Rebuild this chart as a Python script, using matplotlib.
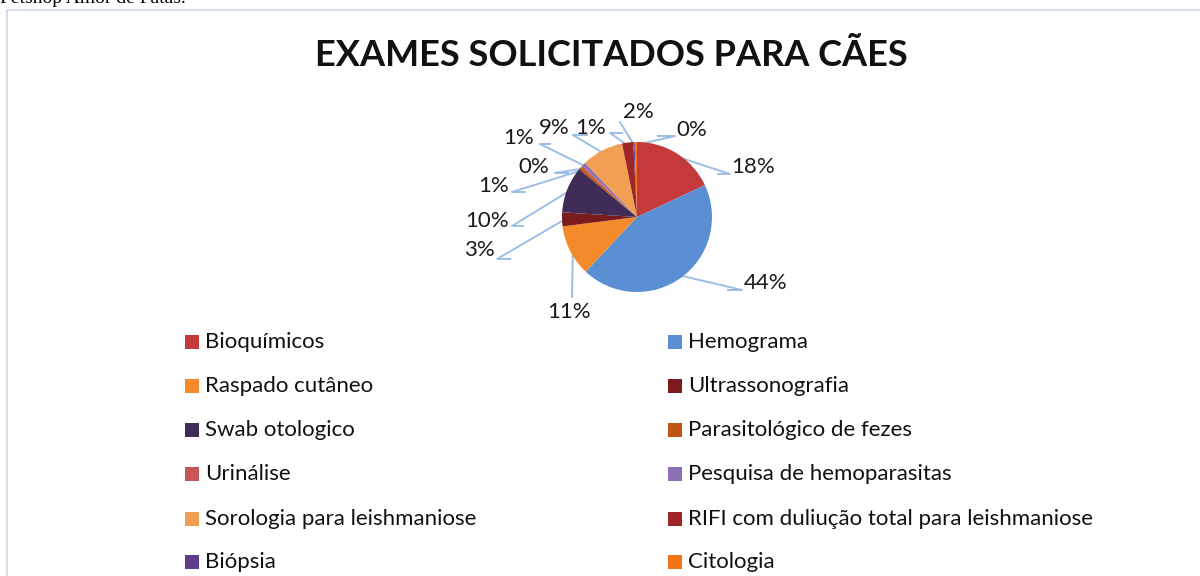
import numpy as np
import matplotlib
matplotlib.use("Agg")
import matplotlib.pyplot as plt
from matplotlib.patches import Rectangle

# ── data ──────────────────────────────────────────────────────────────────────
exames = ["Bioquímicos", "Hemograma", "Raspado cutâneo", "Ultrassonografia",
          "Swab otologico", "Parasitológico de fezes", "Urinálise",
          "Pesquisa de hemoparasitas", "Sorologia para leishmaniose",
          "RIFI com duliução total para leishmaniose", "Biópsia", "Citologia"]
valores = [18, 44, 11, 3, 10, 0.6, 0.4, 0.8, 9, 2.4, 0.3, 0.5]
rotulos = ["18%", "44%", "11%", "3%", "10%", "1%", "0%", "1%", "9%", "1%", "2%", "0%"]
cores = ["#C4393A", "#5B8FD3", "#F58A2A", "#7A1C1E", "#3F2D58", "#C0560F",
         "#C95656", "#8C72B4", "#F19F52", "#9E2528", "#5F3E8C", "#F47314"]

# label layout in pixels (centre of text) and leader elbow points
lab_px = [(753, 167), (766, 283), (569, 312), (479, 250), (487, 221), (494, 186),
          (534, 167), (519, 138), (554, 128), (591, 128), (638, 112), (692, 130)]
elbow_px = [[(730, 174), (718, 174)], [(742, 290), (728, 290)], [(572, 297)],
            [(497, 259), (510, 259)], [(512, 226), (523, 226)], [(512, 192), (525, 192)],
            [(555, 173), (568, 173)], [(540, 144), (550, 144)], [(573, 135), (587, 135)],
            [(610, 133), (622, 133)], [(620, 122)], [(675, 136), (658, 136)]]

W, H = 1200, 576
cx, cy, rpx = 637, 217, 75
plt.rcParams["font.family"] = ["Lato", "DejaVu Sans"]

fig = plt.figure(figsize=(W / 100, H / 100), dpi=100)

# chart frame + clipped caption above it
fig.patches.append(Rectangle((7 / W, -0.1), 1.1, (H - 10) / H + 0.1,
                             transform=fig.transFigure, fill=False,
                             edgecolor="#D6DEEC", linewidth=1.5))
fig.text(0, 1 - 3 / H, "Petshop Amor de Patas.", fontsize=14,
         family="Liberation Serif", va="baseline", ha="left")

fig.text(611 / W, 1 - 56 / H, "EXAMES SOLICITADOS PARA CÃES", fontsize=26,
         fontweight="bold", ha="center", va="center", color="#111111")

# pie axes: 450x450 px box, radius 1 -> 75 px
box = 6 * rpx
ax = fig.add_axes([(cx - box / 2) / W, (H - cy - box / 2) / H, box / W, box / H])

wedges, _ = ax.pie(valores, colors=cores, startangle=90, counterclock=False,
                   radius=1, wedgeprops=dict(linewidth=0))
ax.set_xlim(-3, 3); ax.set_ylim(-3, 3)
ax.set_aspect("equal"); ax.axis("off")

def to_data(p):
    return ((p[0] - cx) / rpx, (cy - p[1]) / rpx)

total = sum(valores)
acc = 0
for i, v in enumerate(valores):
    mid = 90 - (acc + v / 2) / total * 360
    acc += v
    ex, ey = 0.96 * np.cos(np.radians(mid)), 0.96 * np.sin(np.radians(mid))
    pts = [to_data(p) for p in elbow_px[i]][::-1] + [(ex, ey)]
    ax.plot([p[0] for p in pts], [p[1] for p in pts], color="#9DBEE6",
            linewidth=1.4, clip_on=False, zorder=0.5)
    lx, ly = to_data(lab_px[i])
    ax.text(lx, ly, rotulos[i], fontsize=16, ha="center", va="center",
            color="#1A1A1A", clip_on=False)

# legend, two columns, row-major
col_x = [185, 668]
row_y = [342, 386, 430, 474, 519, 562]
for i, nome in enumerate(exames):
    x, y = col_x[i % 2], row_y[i // 2]
    fig.patches.append(Rectangle((x / W, 1 - (y + 7) / H), 14 / W, 14 / H,
                                 transform=fig.transFigure, facecolor=cores[i],
                                 edgecolor="none"))
    fig.text((x + 20) / W, 1 - y / H, nome, fontsize=16, ha="left",
             va="center", color="#111111")

fig.savefig("out.png", dpi=100)
